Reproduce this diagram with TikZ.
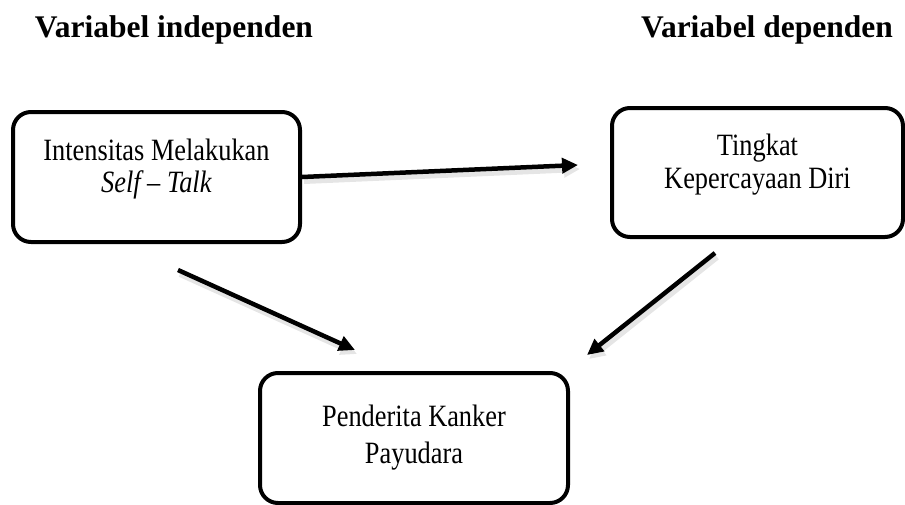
\documentclass[tikz,border=0pt]{standalone}
\usepackage{fontspec}
\setmainfont[FakeStretch=0.85]{Liberation Serif}
\newfontfamily\headfont{Liberation Serif}
\usetikzlibrary{arrows.meta}
\begin{document}
\begin{tikzpicture}[x=1pt,y=-1pt,
  every node/.style={align=center},
  heading/.style={anchor=base, font=\headfont\bfseries\fontsize{31.5}{36}\selectfont},
  varbox/.style={draw, line width=4pt, rounded corners=18pt,
    font=\fontsize{31}{32}\selectfont},
  arr/.style={line width=4.5pt, -{Triangle[length=16pt,width=15pt]},
    preaction={draw=black!10, line width=6pt,
      transform canvas={shift={(2,4)}}}}]
  \useasboundingbox (0,0) rectangle (905,504);
  \node[heading] (indep) at (174,37) {Variabel independen};
  \node[heading] (dep) at (767,37) {Variabel dependen};
  \node[varbox, minimum width=287pt, minimum height=130pt] (self) at (156.5,177)
    {Intensitas Melakukan\\ \textit{Self -- Talk}\rule[-23pt]{0pt}{0pt}};
  \node[varbox, font=\fontsize{31}{33}\selectfont,
    minimum width=291pt, minimum height=129pt] (pd) at (757.5,172.5)
    {Tingkat\\ Kepercayaan Diri\rule[-23pt]{0pt}{0pt}};
  \node[varbox, font=\fontsize{31}{37}\selectfont,
    minimum width=308pt, minimum height=130pt] (kanker) at (414,438)
    {Penderita Kanker\\ Payudara};
  % arrow ends
  \coordinate (h1) at (578,165);
  \coordinate (l0) at (178,270);
  \coordinate (l1) at (355,350);
  \coordinate (r0) at (715,253);
  \coordinate (r1) at (587,355);
  \draw[arr] (self.east) -- (h1);
  \draw[arr] (l0) -- (l1);
  \draw[arr] (r0) -- (r1);
\end{tikzpicture}
\end{document}
